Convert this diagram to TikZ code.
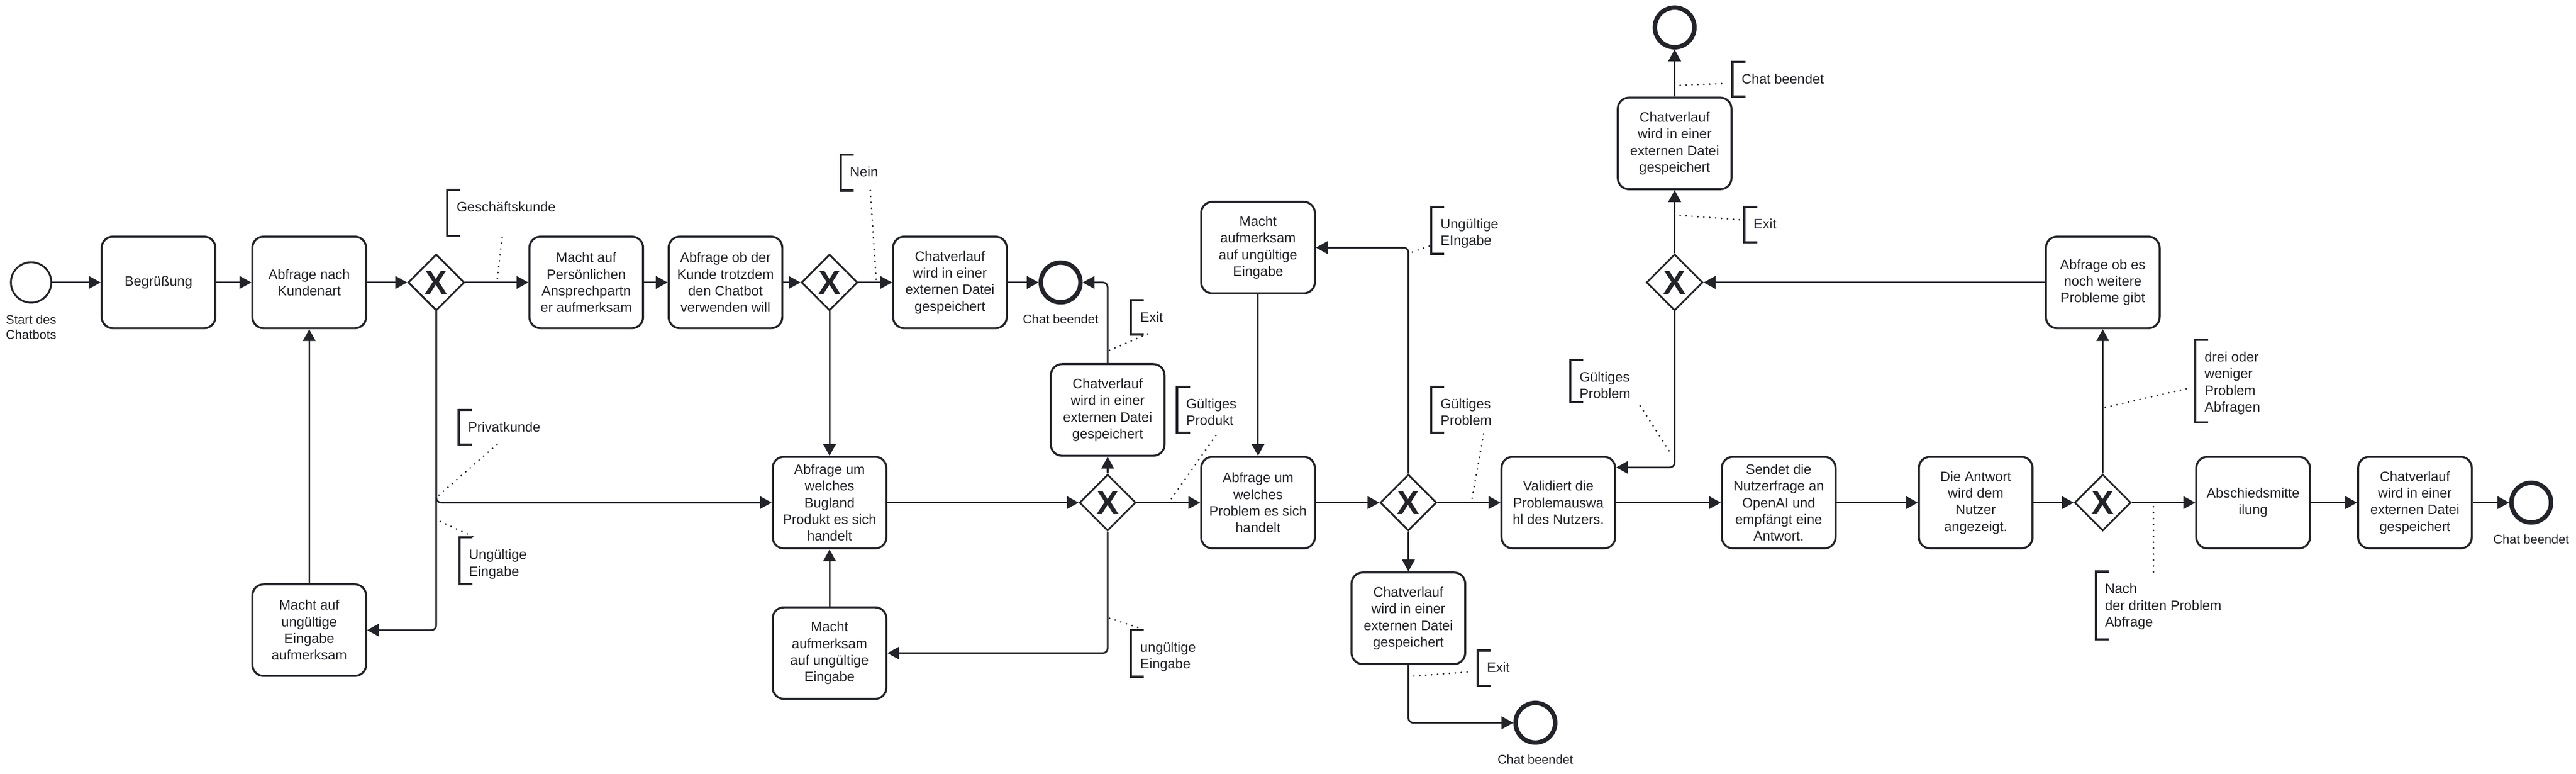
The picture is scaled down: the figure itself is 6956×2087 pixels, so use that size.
\documentclass[tikz,border=0pt]{standalone}
\usepackage{fontspec}
\setmainfont{Liberation Sans}
\usetikzlibrary{arrows.meta,shapes.geometric}
\definecolor{ink}{RGB}{34,36,41}
\tikzset{
 task/.style={draw=ink, line width=0.55pt, rounded corners=3pt, minimum width=30.7pt, minimum height=24.7pt, align=center, inner sep=0pt, font=\fontsize{3.7}{4.5}\selectfont, text=ink, fill=white},
 gate/.style={diamond, draw=ink, line width=0.47pt, minimum width=15.2pt, minimum height=15.2pt, inner sep=0pt, font=\fontsize{9.1}{9.1}\selectfont\bfseries, text=ink, fill=white},
 startev/.style={circle, draw=ink, line width=0.5pt, minimum size=10.9pt, inner sep=0pt, fill=white},
 endev/.style={circle, draw=ink, line width=1.2pt, minimum size=10.7pt, inner sep=0pt, fill=white},
 evlabel/.style={anchor=north, inner sep=0pt, align=center, font=\fontsize{3.4}{4.1}\selectfont, text=ink},
 flow/.style={draw=ink, line width=0.45pt, rounded corners=1.3pt, -{Triangle[length=3.2pt,width=3.4pt]}},
 brk/.style={draw=ink, line width=0.6pt},
 anntext/.style={anchor=north west, inner sep=0pt, align=left, font=\fontsize{3.7}{4.5}\selectfont, text=ink},
 assoc/.style={draw=ink, line width=0.5pt, dash pattern=on 0pt off 1.6pt, line cap=round},
}
\newcommand\myannot[5]{%
 \draw[brk] (#2+35,#3) -- (#2,#3) -- (#2,#4) -- (#2+35,#4);
 \node[anntext] (#1) at (#2+23,#3+22) {\rule{0pt}{3.5pt}#5};
}
\begin{document}
\begin{tikzpicture}[x=0.1pt,y=-0.1pt]
\fill[white] (0,0) rectangle (6956,2087);
\useasboundingbox (0,0) rectangle (6956,2087);

% events
\node[startev] (start) at (84,762) {};
\node[evlabel] (startlbl) at (84,840) {\rule{0pt}{3.2pt}Start des\\Chatbots};
\node[endev] (end1) at (2864,762) {};
\node[evlabel] (end1lbl) at (2864,839) {\rule{0pt}{3.2pt}Chat beendet};
\node[endev] (endb) at (4146,1950) {};
\node[evlabel] (endblbl) at (4146,2027) {\rule{0pt}{3.2pt}Chat beendet};
\node[endev] (endt) at (4522,74) {};
\node[endev] (endf) at (6835,1356) {};
\node[evlabel] (endflbl) at (6835,1433) {\rule{0pt}{3.2pt}Chat beendet};

% tasks
\node[task] (beg) at (428,762) {Begrüßung};
\node[task] (kart) at (835,762) {Abfrage nach\\Kundenart};
\node[task] (ung1) at (835,1700) {Macht auf\\ungültige\\Eingabe\\aufmerksam};
\node[task] (pers) at (1583,762) {Macht auf\\Persönlichen\\Ansprechpartn\\er aufmerksam};
\node[task] (trotz) at (1959,762) {Abfrage ob der\\Kunde trotzdem\\den Chatbot\\verwenden will};
\node[task] (cv1) at (2565,762) {Chatverlauf\\wird in einer\\externen Datei\\gespeichert};
\node[task] (bug) at (2240,1356) {Abfrage um\\welches\\Bugland\\Produkt es sich\\handelt};
\node[task] (ung2) at (2240,1762) {Macht\\aufmerksam\\auf ungültige\\Eingabe};
\node[task] (cvx) at (2991,1106) {Chatverlauf\\wird in einer\\externen Datei\\gespeichert};
\node[task] (prob) at (3397,1356) {Abfrage um\\welches\\Problem es sich\\handelt};
\node[task] (ung3) at (3397,668) {Macht\\aufmerksam\\auf ungültige\\Eingabe};
\node[task] (cv4) at (3803,1668) {Chatverlauf\\wird in einer\\externen Datei\\gespeichert};
\node[task] (val) at (4208,1356) {Validiert die\\Problemauswa\\hl des Nutzers.};
\node[task] (send) at (4803,1356) {Sendet die\\Nutzerfrage an\\OpenAI und\\empfängt eine\\Antwort.};
\node[task] (ant) at (5335,1356) {Die Antwort\\wird dem\\Nutzer\\angezeigt.};
\node[task] (more) at (5678,762) {Abfrage ob es\\noch weitere\\Probleme gibt};
\node[task] (cv5) at (4522,387) {Chatverlauf\\wird in einer\\externen Datei\\gespeichert};
\node[task] (absch) at (6084,1356) {Abschiedsmitte\\ilung};
\node[task] (cvf) at (6521,1356) {Chatverlauf\\wird in einer\\externen Datei\\gespeichert};

% gateways
\node[gate] (gw1) at (1178,762) {X};
\node[gate] (gw2) at (2240,762) {X};
\node[gate] (gw3) at (2991,1356) {X};
\node[gate] (gw4) at (3803,1356) {X};
\node[gate] (gw5) at (4522,762) {X};
\node[gate] (gw6) at (5678,1356) {X};

% sequence flows
\draw[flow] (start) -- (beg);
\draw[flow] (beg) -- (kart);
\draw[flow] (kart) -- (gw1);
\draw[flow] (gw1) -- (pers);
\draw[flow] (pers) -- (trotz);
\draw[flow] (trotz) -- (gw2);
\draw[flow] (gw2) -- (cv1);
\draw[flow] (cv1) -- (end1);
\draw[flow] (gw2) -- (bug);
\draw[flow] (gw1.south) |- (ung1.east);
\draw[flow] (gw1.south) |- (bug.west);
\draw[flow] (ung1) -- (kart);
\draw[flow] (bug) -- (gw3);
\draw[flow] (gw3) -- (cvx);
\draw[flow] (cvx.north) |- (end1.east);
\draw[flow] (gw3) -- (prob);
\draw[flow] (gw3.south) |- (ung2.east);
\draw[flow] (ung2) -- (bug);
\draw[flow] (ung3) -- (prob);
\draw[flow] (prob) -- (gw4);
\draw[flow] (gw4.north) |- (ung3.east);
\draw[flow] (gw4) -- (val);
\draw[flow] (gw4) -- (cv4);
\draw[flow] (cv4.south) |- (endb.west);
\draw[flow] (val) -- (send);
\draw[flow] (send) -- (ant);
\draw[flow] (ant) -- (gw6);
\draw[flow] (gw6) -- (more);
\draw[flow] (more) -- (gw5);
\draw[flow] (gw5) -- (cv5);
\draw[flow] (cv5) -- (endt);
\draw[flow] (gw5.south) |- ([yshift=9.5pt]val.east);
\draw[flow] (gw6) -- (absch);
\draw[flow] (absch) -- (cvf);
\draw[flow] (cvf) -- (endf);

% annotations
\myannot{a1}{1208}{512}{637}{Geschäftskunde}
\draw[assoc] (1356,640) -- (1342,760);
\myannot{a2}{1239}{1106}{1199}{Privatkunde}
\draw[assoc] (1342,1199) -- (1183,1338);
\myannot{a3}{1241}{1450}{1576}{Ungültige\\Eingabe}
\draw[assoc] (1189,1407) -- (1278,1448);
\myannot{a4}{2270}{417}{514}{Nein}
\draw[assoc] (2350,514) -- (2366,756);
\myannot{a5}{3054}{810}{902}{Exit}
\draw[assoc] (2996,945) -- (3101,900);
\myannot{a6}{3178}{1043}{1168}{Gültiges\\Produkt}
\draw[assoc] (3283,1175) -- (3162,1347);
\myannot{a7}{3054}{1700}{1826}{ungültige\\Eingabe}
\draw[assoc] (2996,1668) -- (3085,1697);
\myannot{a8}{3865}{558}{685}{Ungültige\\EIngabe}
\draw[assoc] (3814,680) -- (3862,663);
\myannot{a9}{3865}{1043}{1168}{Gültiges\\Problem}
\draw[assoc] (4006,1171) -- (3975,1345);
\myannot{a10}{3990}{1755}{1850}{Exit}
\draw[assoc] (3818,1824) -- (3976,1812);
\myannot{a11}{4678}{167}{261}{Chat beendet}
\draw[assoc] (4537,230) -- (4664,225);
\myannot{a12}{4710}{558}{654}{Exit}
\draw[assoc] (4537,581) -- (4700,593);
\myannot{a13}{4240}{971}{1085}{Gültiges\\Problem}
\draw[assoc] (4429,1095) -- (4514,1227);
\myannot{a14}{5928}{917}{1139}{drei oder\\weniger\\Problem\\Abfragen}
\draw[assoc] (5685,1099) -- (5916,1046);
\myannot{a15}{5659}{1542}{1725}{Nach\\der dritten Problem\\Abfrage}
\draw[assoc] (5815,1367) -- (5815,1545);
\end{tikzpicture}
\end{document}
